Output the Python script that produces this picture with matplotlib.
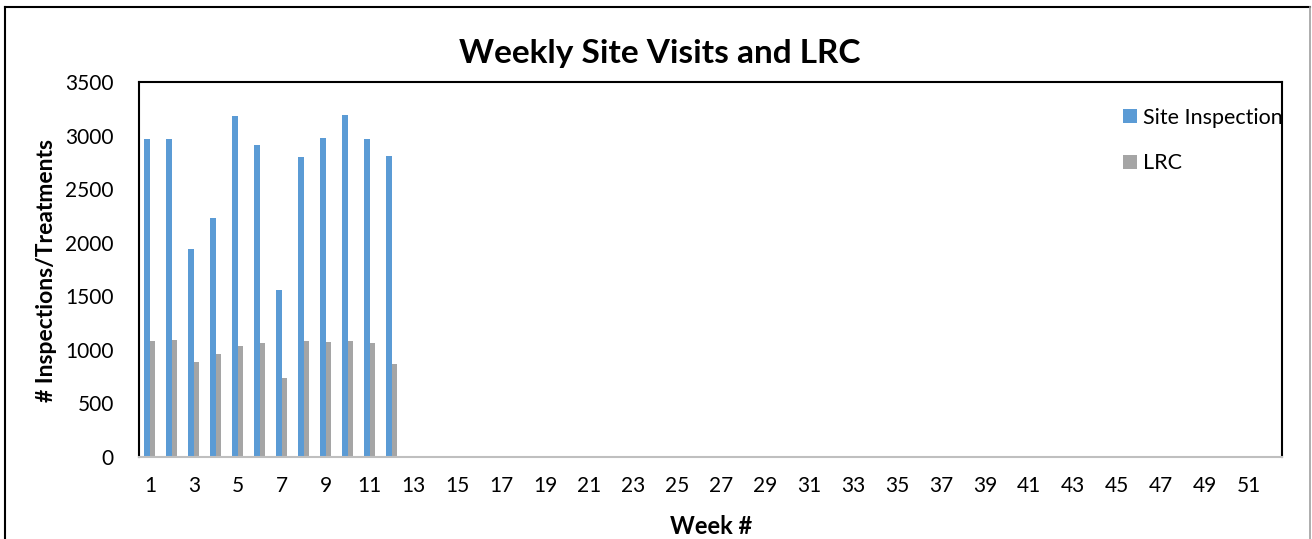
import matplotlib
matplotlib.use("Agg")
import matplotlib.pyplot as plt
from matplotlib.patches import Patch
from matplotlib.lines import Line2D
import numpy as np

weeks = list(range(1, 53))
site_inspection = [2970, 2965, 1945, 2228, 3186, 2909, 1562, 2804, 2981, 3196, 2968, 2813] + [0] * 40
lrc = [1083, 1089, 884, 965, 1040, 1061, 741, 1083, 1073, 1080, 1068, 872] + [0] * 40
xtick_labels = [str(w) for w in range(1, 53, 2)]

plt.rcParams['font.family'] = ['Lato', 'DejaVu Sans']

W, H = 1312, 539
fig = plt.figure(figsize=(W / 100, H / 100), dpi=100)
ax = fig.add_axes([139 / W, 1 - 457 / H, (1282 - 139) / W, (457 - 82) / H])

x = np.array(weeks)
bw = 0.25
ax.bar(x - bw / 2, site_inspection, width=bw, color='#5B9BD5', label='Site Inspection')
ax.bar(x + bw / 2, lrc, width=bw, color='#A5A5A5', label='LRC')

ax.set_xlim(0.5, 52.5)
ax.set_ylim(0, 3500)
ax.set_yticks(range(0, 3501, 500))
ax.set_xticks(range(1, 53, 2))
ax.set_xticklabels(xtick_labels)
ax.tick_params(axis='both', length=0, labelsize=15, colors='black')
ax.tick_params(axis='y', pad=18)
ax.tick_params(axis='x', pad=14)

for s in ['left', 'top', 'right']:
    ax.spines[s].set_color('black')
    ax.spines[s].set_linewidth(1.5)
ax.spines['bottom'].set_color('#BFBFBF')
ax.spines['bottom'].set_linewidth(1.5)

fig.text(660 / W, 1 - 53 / H, 'Weekly Site Visits and LRC', ha='center', va='center',
         fontsize=24, fontweight='bold')
fig.text(47 / W, 1 - 270 / H, '# Inspections/Treatments', ha='center', va='center',
         rotation=90, fontsize=16.5, fontweight='bold')
fig.text(711 / W, 1 - 526 / H, 'Week #', ha='center', va='center',
         fontsize=17, fontweight='bold')

handles = [Patch(facecolor='#5B9BD5', label='Site Inspection'),
           Patch(facecolor='#A5A5A5', label='LRC')]
fig.legend(handles=handles, loc='upper left', bbox_to_anchor=(1114 / W, 1 - 99 / H),
           frameon=False, fontsize=15.5, handlelength=0.65, handleheight=0.65,
           handletextpad=0.3, labelspacing=1.2, borderaxespad=0)

# outer chart border
fig.add_artist(Line2D([5 / W, 5 / W], [0, 1 - 7 / H], color='black', lw=1.5))
fig.add_artist(Line2D([5 / W, 1310 / W], [1 - 7 / H, 1 - 7 / H], color='black', lw=1.5))
fig.add_artist(Line2D([1310 / W, 1310 / W], [0, 1 - 7 / H], color='#A0A0A0', lw=1.2))

fig.savefig('out.png', dpi=100)
